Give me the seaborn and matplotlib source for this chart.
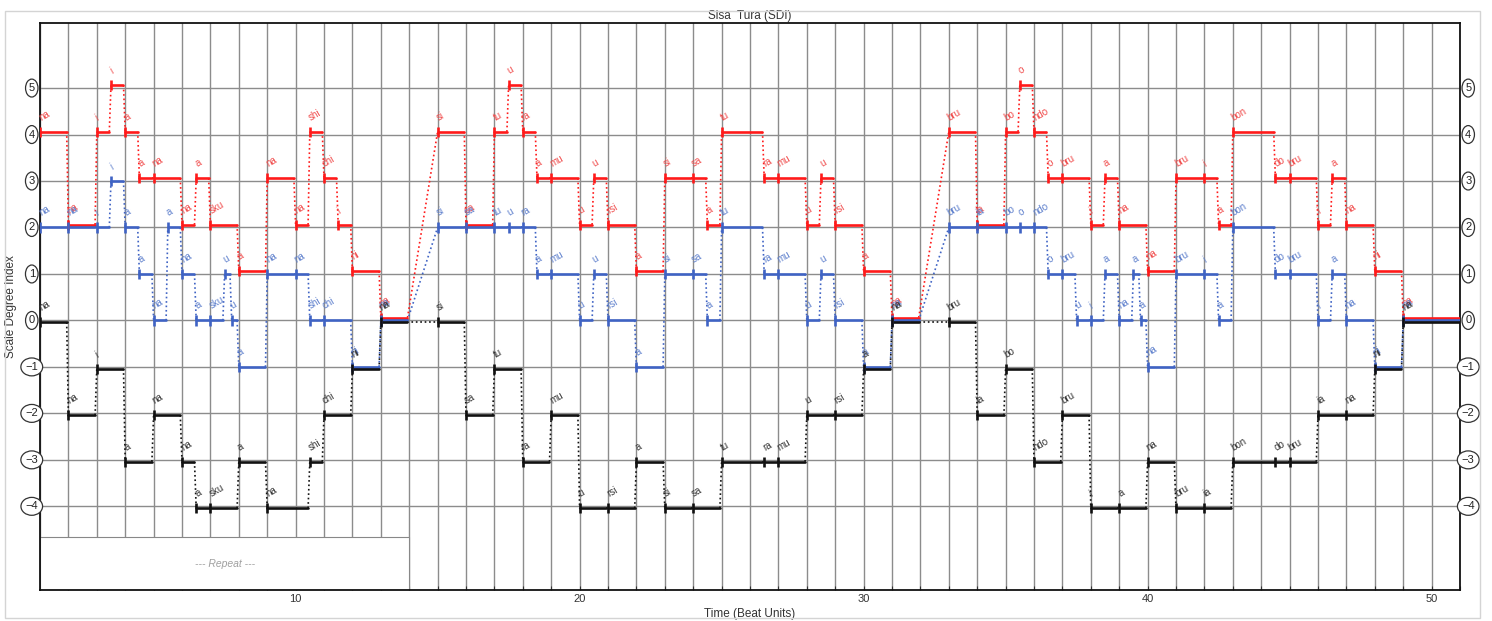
import pandas as pd
import seaborn as sns
import matplotlib.pyplot as plt
from matplotlib.patches import Rectangle

# phrase boundaries (beat units)
phrase_starts = [1, 15, 33]
phrase_ends = [14, 32, 51]

# voice 1 (red)
red_onsets = [1, 2, 3, 3.5, 4, 4.5, 5, 6, 6.5, 7, 8, 9, 10, 10.5, 11, 11.5, 12, 13,
              15, 16, 17, 17.5, 18, 18.5, 19, 20, 20.5, 21, 22, 23, 24, 24.5, 25, 26.5, 27, 28, 28.5, 29, 30, 31,
              33, 34, 35, 35.5, 36, 36.5, 37, 38, 38.5, 39, 40, 41, 42, 42.5, 43, 44.5, 45, 46, 46.5, 47, 48, 49]
red_levels = [4, 2, 4, 5, 4, 3, 3, 2, 3, 2, 1, 3, 2, 4, 3, 2, 1, 0,
              4, 2, 4, 5, 4, 3, 3, 2, 3, 2, 1, 3, 3, 2, 4, 3, 3, 2, 3, 2, 1, 0,
              4, 2, 4, 5, 4, 3, 3, 2, 3, 2, 1, 3, 3, 2, 4, 3, 3, 2, 3, 2, 1, 0]
red_sylls = ['na', 'na', 'i', 'i', 'a', 'a', 'na', 'na', 'a', 'sku', 'a', 'na', 'na', 'shi', 'chi', 'i', 'ni', 'na',
             'si', 'sa', 'tu', 'u', 'ra', 'a', 'mu', 'u', 'u', 'rsi', 'a', 'si', 'sa', 'a', 'tu', 'ra', 'mu', 'u', 'u', 'rsi', 'a', 'na',
             'bru', 'ia', 'bo', 'o', 'ndo', 'o', 'bru', 'i', 'a', 'na', 'na', 'bru', 'i', 'a', 'bon', 'do', 'bru', 'i', 'a', 'na', 'ni', 'na']

# voice 2 (blue)
blue_onsets = [1, 2, 3, 3.5, 4, 4.5, 5, 5.5, 6, 6.5, 7, 7.5, 7.75, 8, 9, 10, 10.5, 11, 12, 13,
               15, 16, 17, 17.5, 18, 18.5, 19, 20, 20.5, 21, 22, 23, 24, 24.5, 25, 26.5, 27, 28, 28.5, 29, 30, 31,
               33, 34, 35, 35.5, 36, 36.5, 37, 37.5, 38, 38.5, 39, 39.5, 39.75, 40, 41, 42, 42.5, 43, 44.5, 45, 46, 46.5, 47, 48, 49]
blue_levels = [2, 2, 2, 3, 2, 1, 0, 2, 1, 0, 0, 1, 0, -1, 1, 1, 0, 0, -1, 0,
               2, 2, 2, 2, 2, 1, 1, 0, 1, 0, -1, 1, 1, 0, 2, 1, 1, 0, 1, 0, -1, 0,
               2, 2, 2, 2, 2, 1, 1, 0, 0, 1, 0, 1, 0, -1, 1, 1, 0, 2, 1, 1, 0, 1, 0, -1, 0]
blue_sylls = ['na', 'na', 'i', 'i', 'a', 'a', 'na', 'a', 'na', 'a', 'sku', 'u', 'u', 'a', 'na', 'na', 'shi', 'chi', 'ni', 'na',
              'si', 'sa', 'tu', 'u', 'ra', 'a', 'mu', 'u', 'u', 'rsi', 'a', 'si', 'sa', 'a', 'tu', 'ra', 'mu', 'u', 'u', 'rsi', 'a', 'na',
              'bru', 'ia', 'bo', 'o', 'ndo', 'o', 'bru', 'u', 'i', 'a', 'na', 'a', 'a', 'na', 'bru', 'i', 'a', 'bon', 'do', 'bru', 'i', 'a', 'na', 'ni', 'na']

# voice 3 (black)
black_onsets = [1, 2, 3, 4, 5, 6, 6.5, 7, 8, 9, 10.5, 11, 12, 13,
                15, 16, 17, 18, 19, 20, 21, 22, 23, 24, 25, 26.5, 27, 28, 29, 30, 31,
                33, 34, 35, 36, 37, 38, 39, 40, 41, 42, 43, 44.5, 45, 46, 47, 48, 49]
black_levels = [0, -2, -1, -3, -2, -3, -4, -4, -3, -4, -3, -2, -1, 0,
                0, -2, -1, -3, -2, -4, -4, -3, -4, -4, -3, -3, -3, -2, -2, -1, 0,
                0, -2, -1, -3, -2, -4, -4, -3, -4, -4, -3, -3, -3, -2, -2, -1, 0]
black_sylls = ['na', 'na', 'i', 'a', 'na', 'na', 'a', 'sku', 'a', 'na', 'shi', 'chi', 'ni', 'na',
               'si', 'sa', 'tu', 'ra', 'mu', 'u', 'rsi', 'a', 'si', 'sa', 'tu', 'ra', 'mu', 'u', 'rsi', 'a', 'na',
               'bru', 'ia', 'bo', 'ndo', 'bru', 'i', 'a', 'na', 'bru', 'ia', 'bon', 'do', 'bru', 'ia', 'na', 'ni', 'na']

y_ticks = [-4, -3, -2, -1, 0, 1, 2, 3, 4, 5]
x_tick_labels = [10, 20, 30, 40, 50]

voices = {
    'red': (red_onsets, red_levels, red_sylls, 0.06, '#ff1a1a', '#f04a4a'),
    'blue': (blue_onsets, blue_levels, blue_sylls, 0.0, '#3f63c4', '#5d7fcc'),
    'black': (black_onsets, black_levels, black_sylls, -0.04, '#111111', '#333333'),
}
gap = 0.06


def note_ends(onsets):
    ends = []
    for i, t in enumerate(onsets):
        nxt = onsets[i + 1] if i + 1 < len(onsets) else None
        if nxt is None or nxt in phrase_starts:
            ends.append(min(e for e in phrase_ends if e > t))
        else:
            ends.append(nxt)
    return ends


seg_rows, con_rows = [], []
for name, (ons, lev, syl, off, lc, tc) in voices.items():
    ends = note_ends(ons)
    for i in range(len(ons)):
        y = lev[i] + off
        stop = ends[i] if ends[i] == 51 else ends[i] - gap
        seg_rows += [(name, f'{name}{i}', ons[i], y), (name, f'{name}{i}', stop, y)]
        if i + 1 < len(ons):
            con_rows += [(name, f'{name}{i}', stop, y), (name, f'{name}{i}', ons[i + 1], lev[i + 1] + off)]

segs = pd.DataFrame(seg_rows, columns=['voice', 'seg', 'x', 'y'])
cons = pd.DataFrame(con_rows, columns=['voice', 'seg', 'x', 'y'])

sns.set_theme(style="white")
plt.rcParams['font.family'] = ['Liberation Sans', 'DejaVu Sans']

fig = plt.figure(figsize=(14.92, 6.21), dpi=100)
ax = fig.add_axes([40 / 1492, 31 / 621, 1420 / 1492, 567 / 621])
line_pal = {k: v[4] for k, v in voices.items()}

sns.lineplot(data=cons, x='x', y='y', hue='voice', units='seg', estimator=None, sort=False,
             palette=line_pal, lw=1.2, linestyle=':', legend=False, ax=ax, zorder=3)
sns.lineplot(data=segs, x='x', y='y', hue='voice', units='seg', estimator=None, sort=False,
             palette=line_pal, lw=1.9, legend=False, ax=ax, zorder=4)

for name, (ons, lev, syl, off, lc, tc) in voices.items():
    ys = [l + off for l in lev]
    ax.vlines(ons, [y - 0.11 for y in ys], [y + 0.11 for y in ys], color=lc, lw=1.9, zorder=4)
    for t, y, s in zip(ons, ys, syl):
        ax.text(t + 0.07, y + 0.2, s, rotation=30, rotation_mode='anchor', fontsize=7,
                color=tc, ha='left', va='bottom', zorder=5)

ax.set_xlim(1, 51)
ax.set_ylim(-5.8, 6.4)
ax.set_xticks(x_tick_labels)
ax.set_xticks(range(1, 52), minor=True)
ax.set_yticks(y_ticks)
ax.set_yticklabels([])
ax.set_axisbelow(True)
ax.grid(which='both', axis='x', color='#8c8c8c', lw=1.0)
ax.grid(which='major', axis='y', color='#8c8c8c', lw=1.0)
ax.tick_params(axis='x', which='both', direction='in', length=3, width=0.8, bottom=True,
               labelsize=8, pad=3, colors='#333333')
ax.tick_params(axis='y', left=False, right=False)
for s in ax.spines.values():
    s.set_color('#111111')
    s.set_linewidth(1.3)

# circled scale-degree labels on both sides
for v in y_ticks:
    lab = str(v).replace('-', '\u2212')
    for xa in (-0.0058, 1.0058):
        ax.text(xa, v, lab, transform=ax.get_yaxis_transform(), ha='center', va='center',
                fontsize=8, color='#222222', clip_on=False,
                bbox=dict(boxstyle='ellipse,pad=0.12', fc='white', ec='#333333', lw=0.9))

# repeat box
ax.add_patch(Rectangle((1, -5.8), 13, 1.15, fc='white', ec='#888888', lw=0.8, zorder=1))
ax.text(7.5, -5.25, '--- Repeat ---', style='italic', fontsize=7.5, color='#a0a0a0',
        ha='center', va='center', zorder=2)

ax.set_title('Sisa  Tura (SDI)', fontsize=8.5, pad=3, color='#333333')
ax.set_xlabel('Time (Beat Units)', fontsize=8.5, labelpad=3, color='#333333')
ax.set_ylabel('Scale Degree Index', fontsize=8.5, color='#333333')
ax.yaxis.set_label_coords(-0.0165, 0.5)

fig.patches.append(Rectangle((5 / 1492, 3 / 621), 1475 / 1492, 607 / 621, transform=fig.transFigure,
                             fill=False, ec='#d4d4d4', lw=1.0))

fig.savefig('out.png', dpi=100)
